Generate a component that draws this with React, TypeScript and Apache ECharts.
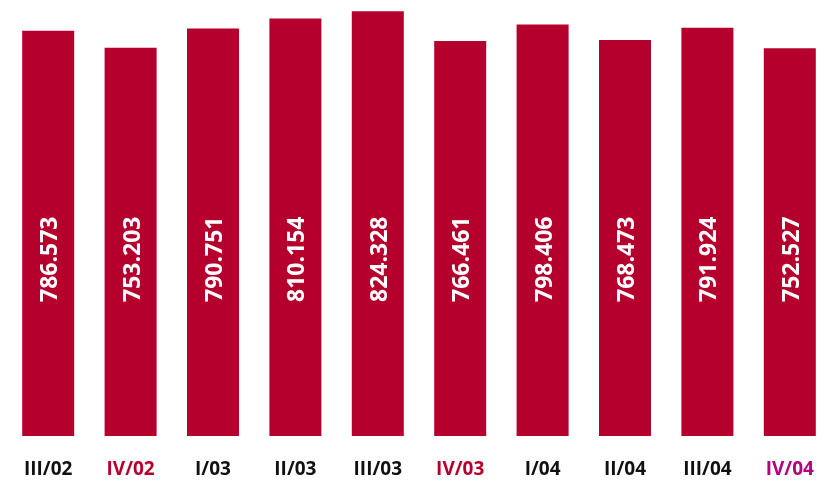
import React, { useEffect, useRef } from "react";
import * as echarts from "echarts";

const categories = ["III/02", "IV/02", "I/03", "II/03", "III/03", "IV/03", "I/04", "II/04", "III/04", "IV/04"];
const values = [786.573, 753.203, 790.751, 810.154, 824.328, 766.461, 798.406, 768.473, 791.924, 752.527];
const labelColors = ["#111111", "#b5002d", "#111111", "#111111", "#111111", "#b5002d", "#111111", "#111111", "#111111", "#b3007c"];

export default function App() {
  const ref = useRef<HTMLDivElement>(null);
  useEffect(() => {
    if (!ref.current) return;
    const chart = echarts.init(ref.current, undefined, { renderer: "svg" });
    chart.setOption({
      animation: false,
      grid: { left: 7, right: 2, top: 0, bottom: 44 },
      xAxis: {
        type: "category",
        data: categories,
        axisLine: { show: false },
        axisTick: { show: false },
        axisLabel: {
          margin: 22,
          fontSize: 19,
          lineHeight: 20,
          fontWeight: "bold",
          fontFamily: "Open Sans",
          color: (_v: string, i: number) => labelColors[i],
        },
      },
      yAxis: {
        type: "value",
        min: 0,
        max: 846,
        show: false,
        splitLine: { show: false },
      },
      series: [
        {
          type: "bar",
          data: values,
          barWidth: 52,
          itemStyle: { color: "#b5002d" },
          label: {
            show: true,
            position: "insideBottom",
            distance: 134,
            rotate: 90,
            align: "left",
            verticalAlign: "middle",
            color: "#ffffff",
            fontSize: 23,
            fontWeight: "bold",
            fontFamily: "Open Sans",
            formatter: (p: any) => p.value.toFixed(3),
          },
        },
      ],
    });
    return () => chart.dispose();
  }, []);
  return <div ref={ref} style={{ position: "fixed", left: 0, top: 0, width: 833, height: 480 }} />;
}
